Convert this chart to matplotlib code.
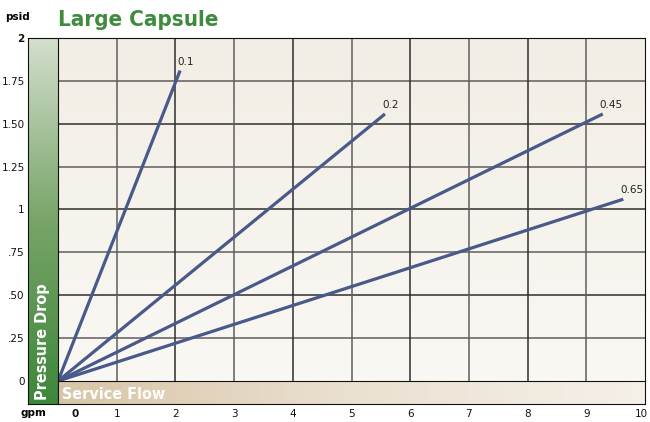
import numpy as np
import matplotlib.pyplot as plt
from matplotlib.colors import LinearSegmentedColormap
from matplotlib.transforms import ScaledTranslation

# micron ratings and the end point of each pressure-drop line
ratings = ["0.1", "0.2", "0.45", "0.65"]
flow_end = [2.08, 5.57, 9.28, 9.63]
drop_end = [1.81, 1.557, 1.557, 1.06]

x_ticks = list(range(11))
x_labels = [str(v) for v in x_ticks]
y_ticks = [0, 0.25, 0.5, 0.75, 1, 1.25, 1.5, 1.75, 2]
y_labels = ["0", ".25", ".50", ".75", "1", "1.25", "1.50", "1.75", "2"]

W, H = 650, 422
fig = plt.figure(figsize=(W / 100, H / 100), dpi=100)
fig.patch.set_facecolor("white")

# main plotting area (data region)
ax = fig.add_axes([58 / W, (H - 381) / H, 587 / W, 343 / H])
bg = LinearSegmentedColormap.from_list("bg", ["#faf8f4", "#f2eee5"])
ax.imshow(np.linspace(0, 1, 100).reshape(-1, 1)[::-1], cmap=bg, aspect="auto",
          extent=[0, 10, 0, 2], zorder=0)
ax.set_xlim(0, 10)
ax.set_ylim(0, 2)

for i, y in enumerate(y_ticks[1:-1]):
    ax.axhline(y, color="#2e2e2e" if i % 2 else "#5e5e5e", lw=1.1, zorder=1)
for i, x in enumerate(x_ticks[1:-1]):
    ax.axvline(x, color="#2e2e2e" if i % 2 else "#5e5e5e", lw=1.1, zorder=1)

for lab, fx, dy in zip(ratings, flow_end, drop_end):
    ax.plot([0, fx], [0, dy], color="#48598a", lw=2.3, solid_capstyle="butt", zorder=3)
    ax.annotate(lab, (fx, dy), xytext=(-3, 4), textcoords="offset pixels",
                ha="left", va="bottom", fontsize=7.5, color="#222222")

for s in ax.spines.values():
    s.set_visible(False)
ax.spines["top"].set_visible(True)
ax.spines["right"].set_visible(True)
ax.spines["top"].set_color("#111111")
ax.spines["right"].set_color("#111111")

ax.set_yticks(y_ticks, y_labels)
ax.set_xticks(x_ticks, x_labels)
ax.tick_params(axis="both", length=0, labelsize=7.5, colors="#111111")
ax.tick_params(axis="y", pad=24)
ax.tick_params(axis="x", pad=20)
for t in ax.get_yticklabels():
    if t.get_text() == "2":
        t.set_fontweight("bold")
xl = ax.get_xticklabels()
xl[0].set_fontweight("bold")
xl[0].set_transform(xl[0].get_transform() + ScaledTranslation(0.17, 0, fig.dpi_scale_trans))
xl[-1].set_transform(xl[-1].get_transform() + ScaledTranslation(-0.04, 0, fig.dpi_scale_trans))

# green "Pressure Drop" bar
gax = fig.add_axes([28 / W, (H - 404) / H, 30 / W, 366 / H])
green = LinearSegmentedColormap.from_list("g", ["#3d873b", "#78a468", "#d3dfcc"])
gax.imshow(np.linspace(0, 1, 200).reshape(-1, 1)[::-1], cmap=green, aspect="auto",
           extent=[0, 1, 0, 1])
gax.text(0.5, 0.01, "Pressure Drop", rotation=90, ha="center", va="bottom",
         color="white", fontsize=11.5, fontweight="bold", transform=gax.transAxes,
         fontstretch="condensed")
gax.set_xticks([])
gax.set_yticks([])
for s in gax.spines.values():
    s.set_color("#111111")

# tan "Service Flow" bar
tax = fig.add_axes([58 / W, (H - 404) / H, 587 / W, 23 / H])
tan = LinearSegmentedColormap.from_list("t", ["#d8c5a6", "#ebe1d2", "#f5f0e8"])
tax.imshow(np.linspace(0, 1, 200).reshape(1, -1), cmap=tan, aspect="auto",
           extent=[0, 1, 0, 1])
tax.text(0.006, 0.42, "Service Flow", ha="left", va="center", color="white",
         fontsize=11.5, fontweight="bold", transform=tax.transAxes,
         fontstretch="condensed")
tax.set_xticks([])
tax.set_yticks([])
for s in tax.spines.values():
    s.set_color("#111111")

fig.text(58 / W, 1 - 20 / H, "Large Capsule", color="#3e8a3e", fontsize=16,
         fontweight="bold", ha="left", va="center", fontstretch="condensed")
fig.text(18 / W, 1 - 17 / H, "psid", fontsize=7.5, fontweight="bold", ha="center", va="center")
fig.text(33 / W, 1 - 413 / H, "gpm", fontsize=7.5, fontweight="bold", ha="center", va="center")

fig.savefig("out.png", dpi=100)
